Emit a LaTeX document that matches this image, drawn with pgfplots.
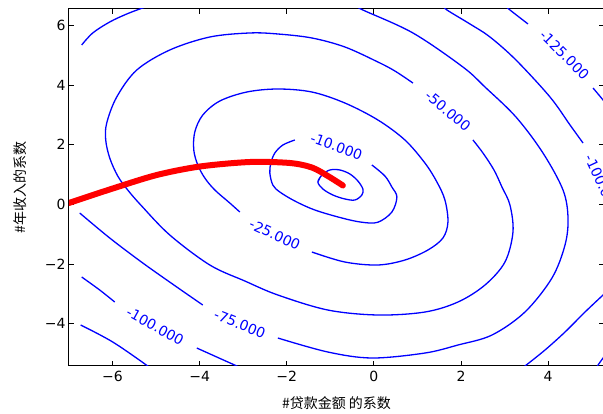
\documentclass[border=0pt]{standalone}
\usepackage{fontspec}
\setmainfont{DejaVu Sans}
\newfontfamily\cjk{Noto Sans CJK SC}
\usepackage{pgfplots}
\pgfplotsset{compat=1.18}
\tikzset{clab/.style={text=blue, inner sep=0pt, font=\fontsize{14}{17}\selectfont}}
\pgfplotsset{cont/.style={blue, line width=1.3pt, smooth, tension=0.55}}
\begin{document}
\begin{tikzpicture}
\begin{axis}[
  at={(0pt,0pt)}, anchor=south west,
  scale only axis, width=535pt, height=357pt,
  xmin=-7, xmax=5.283, ymin=-5.424, ymax=6.556,
  axis line style={line width=1pt, black},
  tick align=inside, xtick pos=both, ytick pos=both,
  major tick length=5pt,
  tick style={black, line width=0.8pt},
  xtick={-6,-4,-2,0,2,4}, xticklabels={−6,−4,−2,0,2,4},
  ytick={-4,-2,0,2,4,6}, yticklabels={−4,−2,0,2,4,6},
  ticklabel style={font=\fontsize{14}{17}\selectfont, text=black},
  xticklabel style={yshift=-2pt},
  xlabel={\cjk \#贷款金额 的系数},
  ylabel={\cjk \#年收入的系数},
  xlabel style={at={(axis description cs:0.5,-0.105)}, anchor=center, font=\fontsize{14}{17}\selectfont},
  ylabel style={at={(axis description cs:-0.0915,0.5)}, anchor=center, font=\fontsize{14}{17}\selectfont},
  clip=true,
]
% innermost
\addplot[cont] coordinates {(-1.286,0.750) (-1.194,0.985) (-1.011,1.153) (-0.781,1.153) (-0.551,1.019) (-0.368,0.784) (-0.253,0.515) (-0.276,0.314) (-0.436,0.146) (-0.666,0.180) (-0.942,0.314) (-1.171,0.515) (-1.286,0.750) (-1.194,0.985)};
% -10
\addplot[cont] coordinates {(-1.815,2.160) (-2.090,1.992) (-2.274,1.723) (-2.366,1.388) (-2.389,1.052) (-2.320,0.649) (-2.159,0.414) (-1.815,0.112) (-1.355,-0.190) (-0.735,-0.458) (-0.276,-0.600) (0.092,-0.600) (0.413,-0.257) (0.528,0.247) (0.413,0.582) (0.253,0.951) (-0.046,1.321)};
% -25
\addplot[cont] coordinates {(-3.078,-0.257) (-3.308,0.045) (-3.652,0.482) (-3.882,0.884) (-4.043,1.321) (-4.135,1.824) (-4.112,2.428) (-3.928,2.999) (-3.537,3.468) (-2.917,3.770) (-2.205,3.871) (-1.424,3.770) (-0.666,3.401) (0.092,2.831) (0.712,2.160) (1.171,1.388) (1.447,0.750) (1.631,0.146) (1.700,-0.592) (1.585,-1.129) (1.240,-1.532) (0.712,-1.868) (0.092,-2.035) (-0.666,-1.935) (-1.424,-1.599)};
% -50
\addplot[cont] coordinates {(0.896,4.072) (0.482,4.475) (0.092,4.777) (-0.666,5.281) (-1.424,5.583) (-2.205,5.717) (-2.849,5.751) (-3.767,5.616) (-4.686,5.180) (-5.444,4.509) (-5.904,3.603) (-6.134,2.730) (-6.157,2.160) (-6.065,1.556) (-5.881,0.951) (-5.651,0.482) (-5.352,-0.022) (-4.686,-1.029) (-3.767,-2.035) (-2.963,-2.572) (-2.205,-3.042) (-1.057,-3.546) (0.092,-3.713) (1.171,-3.613) (1.930,-3.277) (2.550,-2.707) (3.009,-1.935) (3.193,-0.928) (3.124,-0.022) (2.940,0.582) (2.757,1.153) (2.504,1.723) (2.274,2.160)};
% -75
\addplot[cont] coordinates {(-6.754,-0.290) (-6.065,-1.129) (-5.306,-1.968) (-4.525,-2.774) (-3.928,-3.378)};
\addplot[cont] coordinates {(-2.205,-4.485) (-1.057,-4.955) (-0.046,-5.156) (1.171,-4.989) (1.930,-4.720) (2.711,-4.385) (3.468,-3.613) (4.088,-2.472) (4.388,-1.364) (4.457,-0.458) (4.342,0.482) (3.882,1.723) (3.262,2.931) (2.550,3.938) (2.044,4.609) (0.896,5.751) (-0.253,6.522) (-0.35,6.62)};
\addplot[cont] coordinates {(-6.708,5.348) (-6.455,5.751) (-6.065,6.120) (-5.674,6.388) (-5.375,6.556) (-5.25,6.62)};
% -100
\addplot[cont] coordinates {(-6.708,-2.438) (-6.295,-2.874) (-5.950,-3.277)};
\addplot[cont] coordinates {(-4.066,-4.821) (-3.607,-5.123) (-3.147,-5.425) (-3.0,-5.53)};
\addplot[cont] coordinates {(1.60,6.65) (1.677,6.522) (2.205,6.053) (2.665,5.616) (3.262,4.844) (4.043,3.603) (4.503,2.663) (4.801,2.059)};
\addplot[cont] coordinates {(3.35,-5.55) (3.469,-5.425) (3.928,-4.888) (4.388,-4.284) (4.847,-3.613) (5.261,-3.042) (5.40,-2.85)};
% -125
\addplot[cont] coordinates {(3.05,6.62) (3.124,6.522) (3.538,6.053)};
\addplot[cont] coordinates {(5.031,3.905) (5.261,3.502) (5.35,3.33)};
\addplot[cont] coordinates {(-6.731,-4.049) (-5.996,-4.619) (-5.192,-5.425) (-5.10,-5.55)};
\addplot[cont] coordinates {(5.10,-5.50) (5.146,-5.39) (5.261,-5.156) (5.33,-5.0)};
% labels
\node[clab, rotate=-20] at (axis cs:-0.861,1.941) {-10.000};
\node[clab, rotate=-25] at (axis cs:-2.274,-1.019) {-25.000};
\node[clab, rotate=-40] at (axis cs:1.700,3.133) {-50.000};
\node[clab, rotate=-22] at (axis cs:-3.078,-4.012) {-75.000};
\node[clab, rotate=-29] at (axis cs:-5.020,-4.093) {-100.000};
\node[clab, rotate=-45] at (axis cs:4.376,5.012) {-125.000};
\node[clab, rotate=-65] at (axis cs:5.238,0.683) {-100.000};
% gradient path
\addplot[red, line width=6pt, smooth, line cap=round] coordinates {(-7.006,0.045) (-5.996,0.532) (-4.985,0.985) (-3.997,1.270) (-2.849,1.421) (-1.930,1.388) (-1.424,1.237) (-1.057,0.951) (-0.712,0.633)};
\end{axis}
\pgfresetboundingbox
\path[use as bounding box] (-69pt,-48pt) rectangle (534pt,366pt);
\end{tikzpicture}
\end{document}
